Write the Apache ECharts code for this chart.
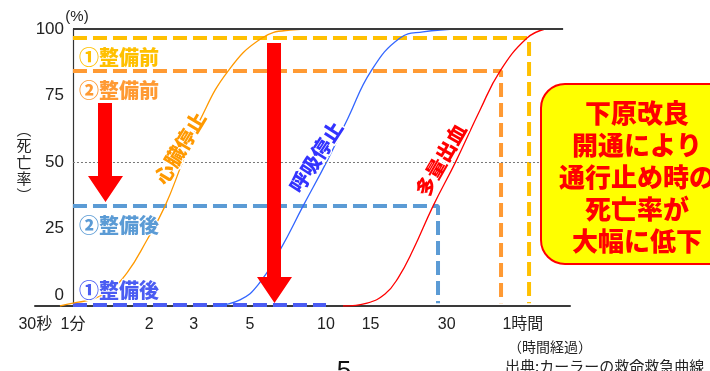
<!DOCTYPE html>
<html><head><meta charset="utf-8">
<script src="https://cdn.jsdelivr.net/npm/echarts@6/dist/echarts.min.js"></script>
<style>html,body{margin:0;padding:0;background:#fff}#c{width:710px;height:371px}</style>
</head><body><div id="c"></div>
<script>
// ---- tick labels (x = elapsed minutes, log scale; 30秒 sits at the left end of the compressed axis) ----
const xTickMinutes = [0.71, 1, 2, 3, 5, 10, 15, 30, 60];
const xTickLabels  = ['30秒', '1分', '2', '3', '5', '10', '15', '30', '1時間'];
const yTickValues  = [0, 25, 50, 75, 100];

// ---- curves: minutes elapsed / death rate (%) ----
const cardiacMin  = [0.888, 1.0, 1.2, 1.4, 1.635, 1.961, 2.31, 2.721, 3.177, 4.1, 5.585, 7.205, 8.884];
const cardiacRate = [-4, -2.9, -1.4, 2.0, 8.4, 20.8, 33.5, 50.4, 65.8, 84.2, 96.6, 99.6, 100];

const respMin  = [3.641, 4.572, 5.386, 6.579, 8.112, 10.09, 12.22, 15.06, 19.61, 24.17, 33.86];
const respRate = [-4, -1.7, 3.9, 17.0, 33.5, 50.4, 66.6, 84.2, 96.6, 98.9, 100];

const bleedMin  = [11.67, 14.53, 17.11, 19.26, 22.07, 26.48, 32.64, 40.62, 48.73, 62.3, 73.37];
const bleedRate = [-4, -2.9, 0.5, 6.5, 17.0, 33.5, 50.4, 69.6, 84.2, 96.6, 100];

// ---- guide levels (death rate %) and the times where they meet the bleeding curve ----
const before1Rate = 96.6, before1Min = 63.45;   // ①整備前
const before2Rate = 84.2, before2Min = 49.17;   // ②整備前
const after2Rate  = 33.5, after2Min  = 27.71;   // ②整備後
const after1Rate  = -3.6, after1EndMin = 10;    // ①整備後
const startMin = 1, frameEndMin = 86.5;
const yMin = -4, yMax = 100;
const xMinMin = 0.7078, xMaxMin = 92.1;

const L = v => Math.log10(v);
const pairs = (xs, ys) => xs.map((x, i) => [L(x), ys[i]]);

const NUMF = "'Liberation Sans','Noto Sans CJK JP',sans-serif";
const CJK = "'Noto Sans CJK JP',sans-serif";

const chart = echarts.init(document.getElementById('c'), null, {renderer: 'canvas'});

function curve(name, data, color) {
  return {
    name, type: 'line', data, smooth: 0.45, symbol: 'none', z: 3,
    lineStyle: {color, width: 1.3}, silent: true, emphasis: {disabled: true}
  };
}
function dashed(name, data, color, width) {
  return {
    name, type: 'line', data, symbol: 'none', z: 2, silent: true, emphasis: {disabled: true},
    lineStyle: {color, width: width || 4, type: [14, 6]}
  };
}

const option = {
  animation: false,
  grid: {left: 35, right: 140, top: 29, bottom: 65, outerBoundsMode: 'none', containLabel: false},
  xAxis: {
    type: 'value', min: L(xMinMin), max: L(xMaxMin),
    axisLine: {onZero: false, lineStyle: {color: '#3a3a3a', width: 2}},
    axisTick: {show: false}, splitLine: {show: false},
    axisLabel: {
      customValues: xTickMinutes.map(L), margin: 11,
      color: '#222', fontSize: 16, fontFamily: NUMF,
      formatter: v => {
        let best = 0;
        xTickMinutes.forEach((m, i) => { if (Math.abs(L(m) - v) < Math.abs(L(xTickMinutes[best]) - v)) best = i; });
        return xTickLabels[best];
      }
    }
  },
  yAxis: {
    type: 'value', min: yMin, max: yMax, offset: -38,
    axisLine: {show: true, onZero: false, lineStyle: {color: '#333', width: 1.2}},
    axisTick: {show: false}, splitLine: {show: false},
    axisLabel: {customValues: yTickValues, margin: 9, color: '#222', fontSize: 17, fontFamily: NUMF}
  },
  series: [
    dashed('①整備前', [[L(startMin), before1Rate], [L(before1Min), before1Rate], [L(before1Min), yMin + 1]], '#ffc000'),
    dashed('②整備前', [[L(startMin), before2Rate], [L(before2Min), before2Rate], [L(before2Min), yMin + 1]], '#ff9a33'),
    dashed('②整備後', [[L(startMin), after2Rate], [L(after2Min), after2Rate], [L(after2Min), yMin + 1]], '#5b9bd5'),
    dashed('①整備後', [[L(startMin), after1Rate], [L(after1EndMin), after1Rate]], '#4b5cf2'),
    Object.assign(curve('心臓停止', pairs(cardiacMin, cardiacRate), '#ff9900'), {
      markLine: {
        silent: true, symbol: 'none', label: {show: false}, emphasis: {disabled: true},
        data: [
          [{coord: [L(startMin), 100], lineStyle: {color: '#3a3a3a', width: 2, type: 'solid'}}, {coord: [L(frameEndMin), 100]}],
          [{coord: [L(startMin), 50], lineStyle: {color: '#777', width: 1, type: [2, 2]}}, {coord: [L(frameEndMin), 50]}]
        ]
      }
    }),
    curve('呼吸停止', pairs(respMin, respRate), '#3366ff'),
    curve('多量出血', pairs(bleedMin, bleedRate), '#ff0000')
  ],
  graphic: [
    {type: 'text', x: 77, y: 17, z: 20, style: {text: '(%)', font: '15px ' + NUMF, fill: '#222', textAlign: 'center', textVerticalAlign: 'middle'}},
    {type: 'text', x: 24, y: 162, z: 20, style: {text: '︵\n死\n亡\n率\n︶', font: '15px ' + CJK, lineHeight: 16.5, fill: '#222', textAlign: 'center', textVerticalAlign: 'middle'}},
    {type: 'text', x: 508, y: 347, z: 20, style: {text: '（時間経過）', font: '14px ' + CJK, fill: '#222', textAlign: 'left', textVerticalAlign: 'middle'}},
    {type: 'text', x: 505, y: 366, z: 20, style: {text: '出典:カーラーの救命救急曲線', font: '15px ' + CJK, fill: '#222', textAlign: 'left', textVerticalAlign: 'middle'}},
    {type: 'text', x: 344, y: 359, z: 20, style: {text: '5', font: '26px ' + NUMF, fill: '#111', textAlign: 'center', textVerticalAlign: 'top'}},

    {type: 'text', x: 79, y: 57, z: 20, style: {text: '①整備前', font: '900 20px ' + CJK, fill: '#ffc000', stroke: '#fff', lineWidth: 2, textAlign: 'left', textVerticalAlign: 'middle'}},
    {type: 'text', x: 79, y: 90, z: 20, style: {text: '②整備前', font: '900 20px ' + CJK, fill: '#ff9a33', stroke: '#fff', lineWidth: 2, textAlign: 'left', textVerticalAlign: 'middle'}},
    {type: 'text', x: 79, y: 225, z: 20, style: {text: '②整備後', font: '900 20px ' + CJK, fill: '#5b9bd5', stroke: '#fff', lineWidth: 2, textAlign: 'left', textVerticalAlign: 'middle'}},
    {type: 'text', x: 79, y: 290, z: 20, style: {text: '①整備後', font: '900 20px ' + CJK, fill: '#4b5cf2', stroke: '#fff', lineWidth: 2, textAlign: 'left', textVerticalAlign: 'middle'}},

    {type: 'text', x: 180, y: 148, rotation: 59 * Math.PI / 180, z: 20, style: {text: '心臓停止', font: '900 20px ' + CJK, fill: '#ff9900', stroke: '#fff', lineWidth: 3, textAlign: 'center', textVerticalAlign: 'middle'}},
    {type: 'text', x: 316, y: 157, rotation: 57 * Math.PI / 180, z: 20, style: {text: '呼吸停止', font: '900 20px ' + CJK, fill: '#3333ff', stroke: '#fff', lineWidth: 3, textAlign: 'center', textVerticalAlign: 'middle'}},
    {type: 'text', x: 441, y: 160, rotation: 60 * Math.PI / 180, z: 20, style: {text: '多量出血', font: '900 20px ' + CJK, fill: '#ff0000', stroke: '#fff', lineWidth: 3, textAlign: 'center', textVerticalAlign: 'middle'}},

    {type: 'polygon', z: 30, shape: {points: [[98, 103], [112, 103], [112, 176], [123, 176], [105.5, 202], [88, 176], [98, 176]]}, style: {fill: '#ff0000'}},
    {type: 'polygon', z: 30, shape: {points: [[267, 43], [281, 43], [281, 277], [292, 277], [274.5, 303], [257, 277], [267, 277]]}, style: {fill: '#ff0000'}},

    {type: 'rect', z: 40, shape: {x: 541, y: 84, width: 196, height: 180, r: 24}, style: {fill: '#ffff00', stroke: '#ff0000', lineWidth: 2}},
    {type: 'text', x: 637, y: 113, z: 41, style: {text: '下原改良', font: '900 26px ' + CJK, fill: '#ff0000', textAlign: 'center', textVerticalAlign: 'middle'}},
    {type: 'text', x: 637, y: 145, z: 41, style: {text: '開通により', font: '900 26px ' + CJK, fill: '#ff0000', textAlign: 'center', textVerticalAlign: 'middle'}},
    {type: 'text', x: 637, y: 177, z: 41, style: {text: '通行止め時の', font: '900 26px ' + CJK, fill: '#ff0000', textAlign: 'center', textVerticalAlign: 'middle'}},
    {type: 'text', x: 637, y: 209, z: 41, style: {text: '死亡率が', font: '900 26px ' + CJK, fill: '#ff0000', textAlign: 'center', textVerticalAlign: 'middle'}},
    {type: 'text', x: 637, y: 241, z: 41, style: {text: '大幅に低下', font: '900 26px ' + CJK, fill: '#ff0000', textAlign: 'center', textVerticalAlign: 'middle'}}
  ]
};
chart.setOption(option);
</script>
</body></html>
